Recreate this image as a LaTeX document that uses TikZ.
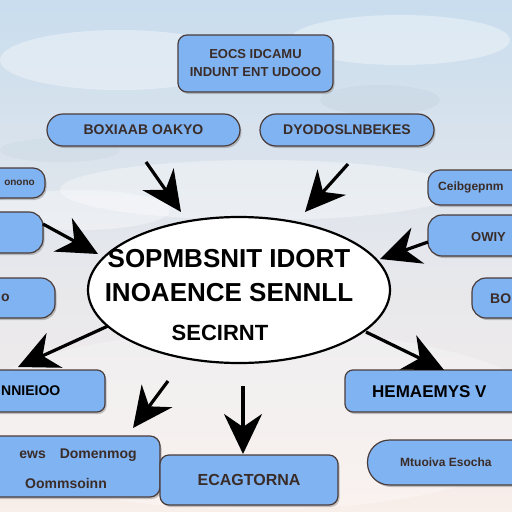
\documentclass[tikz,border=0pt]{standalone}
\usepackage{fontspec}
\setmainfont{Liberation Sans}
\usetikzlibrary{arrows.meta,shadows,shapes.geometric}
\definecolor{boxfill}{HTML}{80B3F2}
\definecolor{boxline}{HTML}{4A3C3A}
\definecolor{boxtext}{HTML}{3A2C28}
\definecolor{skytop}{HTML}{C9DDEE}
\definecolor{skybot}{HTML}{F8EEEA}
\tikzset{
  boxnode/.style={draw=boxline, line width=1.2pt, fill=boxfill, rounded corners=9pt,
    drop shadow={shadow xshift=1.5pt, shadow yshift=-2pt, opacity=0.45},
    font=\bfseries\fontsize{14}{16}\selectfont, text=boxtext, align=center, inner sep=0pt},
  pillnode/.style={boxnode, rounded corners=16pt},
  boxlabel/.style={font=\bfseries\fontsize{14}{16}\selectfont, text=boxtext, inner sep=0pt},
  bigarrow/.style={line width=3.2pt, -{Stealth[length=40pt,width=38pt,inset=13pt]}},
  cloud/.style={fill=white, opacity=0.35}
}
\begin{document}
\begin{tikzpicture}[x=1pt,y=-1pt]
\useasboundingbox (0,0) rectangle (512,512);
\clip (0,0) rectangle (512,512);
% background sky
\shade[top color=skytop, bottom color=skybot, middle color=skytop!40!skybot] (0,0) rectangle (512,512);
\fill[cloud] (120,60) ellipse (120 and 30);
\fill[cloud] (400,40) ellipse (110 and 25);
\fill[cloud] (260,190) ellipse (200 and 30);
\fill[cloud] (80,210) ellipse (90 and 20);
\fill[white, opacity=0.25] (256,420) ellipse (300 and 90);
\fill[skytop!80!gray, opacity=0.25] (380,100) ellipse (60 and 15);
\fill[skytop!80!gray, opacity=0.2] (60,150) ellipse (60 and 12);

% central ellipse
\node[ellipse, draw=black, line width=2.2pt, fill=white, minimum width=302pt, minimum height=146pt, inner sep=0pt] (main) at (239,290) {};
\node[font=\bfseries\fontsize{26}{28}\selectfont, inner sep=0pt] (mt1) at (229,259) {SOPMBSNIT IDORT};
\node[font=\bfseries\fontsize{26}{28}\selectfont, inner sep=0pt] (mt2) at (229,293) {INOAENCE SENNLL};
\node[font=\bfseries\fontsize{22}{24}\selectfont, inner sep=0pt] (mt3) at (220,333) {SECIRNT};

% boxes
\node[boxnode, minimum width=155pt, minimum height=57pt, font=\bfseries\fontsize{13}{15}\selectfont] (b1) at (255.5,63.5) {EOCS IDCAMU\\[3pt]INDUNT ENT UDOOO};
\node[pillnode, minimum width=193pt, minimum height=32pt] (b2) at (143.5,130) {BOXIAAB OAKYO};
\node[pillnode, minimum width=174pt, minimum height=32pt] (b3) at (347,130) {DYODOSLNBEKES};
\node[boxnode, minimum width=65pt, minimum height=30pt, rounded corners=12pt] (b4) at (12.5,183) {};
\node[boxlabel, font=\bfseries\fontsize{10}{12}\selectfont, anchor=east] (t4) at (35,183) {onono};
\node[boxnode, minimum width=63pt, minimum height=41pt, rounded corners=14pt] (b5) at (11.5,232.5) {};
\node[boxnode, minimum width=110pt, minimum height=35pt, rounded corners=12pt] (b6) at (483,187.5) {};
\node[boxlabel, font=\bfseries\fontsize{12}{14}\selectfont, anchor=west] (t6) at (438,187.5) {Ceibgepnm};
\node[boxnode, minimum width=110pt, minimum height=41pt, rounded corners=14pt] (b7) at (483,235.5) {};
\node[boxlabel, font=\bfseries\fontsize{13}{15}\selectfont, anchor=west] (t7) at (471,237) {OWIY};
\node[boxnode, minimum width=75pt, minimum height=40pt, rounded corners=14pt] (b8) at (17.5,298) {};
\node[boxlabel, anchor=west] (t8) at (1,298) {o};
\node[boxnode, minimum width=70pt, minimum height=40pt, rounded corners=14pt] (b9) at (507,298) {};
\node[boxlabel, anchor=west] (t9) at (490,299) {BO};
\node[boxnode, minimum width=125pt, minimum height=42pt, rounded corners=8pt] (b10) at (42.5,391) {};
\node[boxlabel, text=black, anchor=west] (t10) at (1,391) {NNIEIOO};
\node[boxnode, minimum width=195pt, minimum height=42pt, rounded corners=8pt] (b11) at (442.5,391) {};
\node[boxlabel, font=\bfseries\fontsize{17}{19}\selectfont, text=black, anchor=west] (t11) at (372,392) {HEMAEMYS V};
\node[boxnode, minimum width=180pt, minimum height=61pt, rounded corners=10pt] (b12) at (70,466.5) {};
\node[boxlabel, anchor=east] (t12a) at (137,455) {ews\quad Domenmog};
\node[boxlabel] (t12b) at (66,483) {Oommsoinn};
\node[boxnode, minimum width=178pt, minimum height=50pt, rounded corners=9pt, font=\bfseries\fontsize{16}{18}\selectfont] (b13) at (249,480) {ECAGTORNA};
\node[pillnode, minimum width=175pt, minimum height=45pt, rounded corners=22pt] (b14) at (455,462.5) {};
\node[boxlabel, font=\bfseries\fontsize{12}{14}\selectfont, anchor=west] (t14) at (400,462) {Mtuoiva Esocha};

% arrow end points
\coordinate (a1s) at (146,162); \coordinate (a1e) at (181,212);
\coordinate (a2s) at (348,164); \coordinate (a2e) at (305,212);
\coordinate (a3s) at (43,224);  \coordinate (a3e) at (98,254);
\coordinate (a4s) at (428,242); \coordinate (a4e) at (380,259);
\coordinate (a5s) at (108,326); \coordinate (a5e) at (18,367);
\coordinate (a6s) at (366,332); \coordinate (a6e) at (444,370);
\coordinate (a7s) at (168,381); \coordinate (a7e) at (133,428);
\coordinate (a8s) at (243,386); \coordinate (a8e) at (243,454);

\draw[bigarrow] (a1s) -- (a1e);
\draw[bigarrow] (a2s) -- (a2e);
\draw[bigarrow] (a3s) -- (a3e);
\draw[bigarrow] (a4s) -- (a4e);
\draw[bigarrow] (a5s) -- (a5e);
\draw[bigarrow] (a6s) -- (a6e);
\draw[bigarrow] (a7s) -- (a7e);
\draw[bigarrow] (a8s) -- (a8e);
\end{tikzpicture}
\end{document}
